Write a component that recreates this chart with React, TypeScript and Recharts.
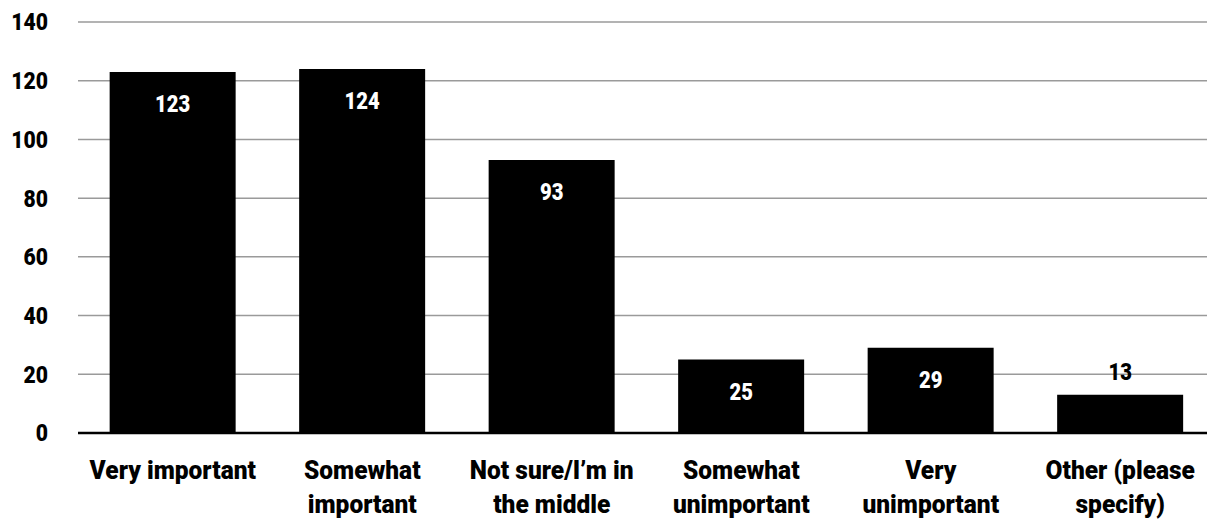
import React from "react";
import { BarChart, Bar, XAxis, YAxis, CartesianGrid, LabelList, ReferenceLine } from "recharts";

const categories = [
  "Very important",
  "Somewhat important",
  "Not sure/I’m in the middle",
  "Somewhat unimportant",
  "Very unimportant",
  "Other (please specify)",
];
const counts = [123, 124, 93, 25, 29, 13];
const yTicks = [0, 20, 40, 60, 80, 100, 120, 140];

const data = categories.map((name, i) => ({ name, value: counts[i] }));

const FONT = "Roboto, 'DejaVu Sans', sans-serif";
const SX = 0.88;

function wrap(text: string, max: number): string[] {
  const words = text.split(" ");
  const lines: string[] = [];
  let cur = "";
  for (const w of words) {
    const next = cur ? cur + " " + w : w;
    if (next.length > max && cur) {
      lines.push(cur);
      cur = w;
    } else {
      cur = next;
    }
  }
  if (cur) lines.push(cur);
  return lines;
}

const XTick = (props: any) => {
  const { x, y, payload } = props;
  const lines = wrap(String(payload.value), 15);
  return (
    <g transform={`translate(${x},${y}) scale(0.98,1)`}>
      <text x={0} y={0} textAnchor="middle" fontFamily={FONT} fontWeight={900} fontSize={25} fill="#000">
        {lines.map((l, i) => (
          <tspan key={i} x={0} dy={i === 0 ? 38 : 34}>
            {l}
          </tspan>
        ))}
      </text>
    </g>
  );
};

const YTick = (props: any) => {
  const { y, payload } = props;
  return (
    <g transform={`translate(48,${y}) scale(${SX},1)`}>
      <text x={0} y={0} dy="0.35em" textAnchor="end" fontFamily={FONT} fontWeight={900} fontSize={24} fill="#000">
        {payload.value}
      </text>
    </g>
  );
};

const ValueLabel = (props: any) => {
  const { x, y, width, value } = props;
  const inside = value >= 20;
  return (
    <g transform={`translate(${x + width / 2},${inside ? y + 40 : y - 15}) scale(${SX},1)`}>
      <text
        x={0}
        y={0}
        textAnchor="middle"
        fontFamily={FONT}
        fontWeight={900}
        fontSize={23}
        fill={inside ? "#fff" : "#000"}
      >
        {value}
      </text>
    </g>
  );
};

export default function App() {
  return (
    <div style={{ position: "absolute", left: 0, top: 0, width: 1207, height: 521, overflow: "hidden", background: "#fff" }}>
      <BarChart
        width={1215}
        height={521}
        data={data}
        margin={{ top: 22, right: 0, bottom: 0, left: 0 }}
        barCategoryGap="16.7%"
      >
        <CartesianGrid vertical={false} stroke="#9a9a9a" strokeWidth={1.5} />
        <XAxis
          dataKey="name"
          interval={0}
          height={88}
          axisLine={false}
          tickLine={false}
          tick={<XTick />}
        />
        <YAxis
          width={78}
          domain={[0, 140]}
          ticks={yTicks}
          axisLine={false}
          tickLine={false}
          tick={<YTick />}
        />
        <Bar dataKey="value" fill="#000" isAnimationActive={false}>
          <LabelList dataKey="value" content={<ValueLabel />} />
        </Bar>
        <ReferenceLine y={0} stroke="#000" strokeWidth={2.5} />
      </BarChart>
    </div>
  );
}
